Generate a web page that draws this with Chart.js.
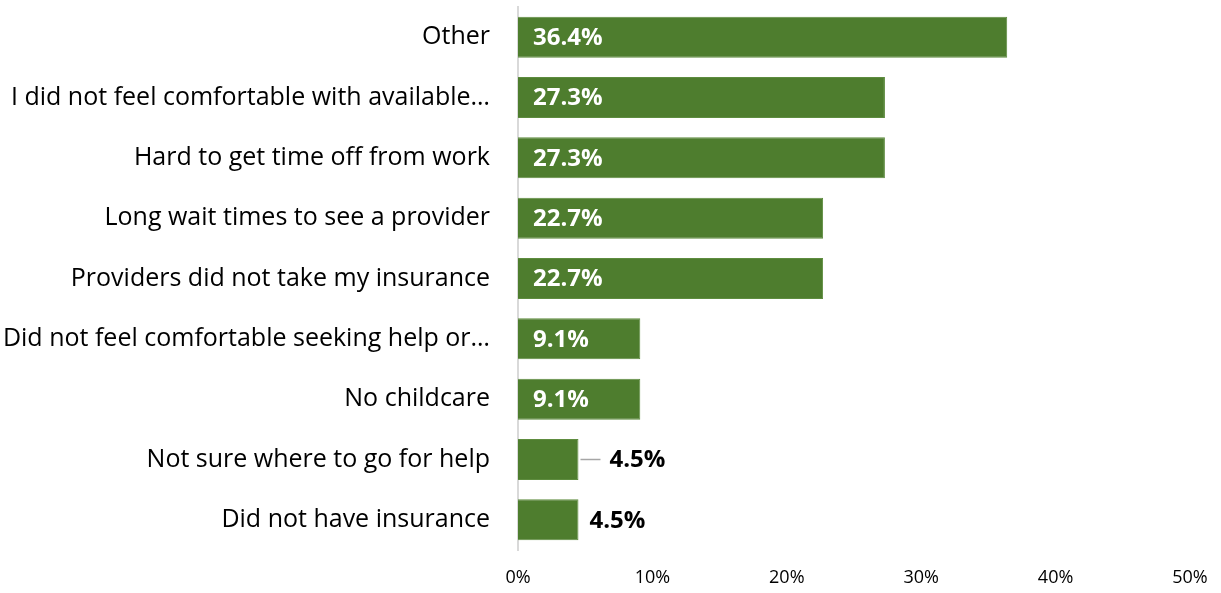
<!DOCTYPE html>
<html>
<head>
<meta charset="utf-8">
<script src="https://cdn.jsdelivr.net/npm/chart.js@4"></script>
<style>
  body { margin: 0; background: #fff; }
</style>
</head>
<body>
<canvas id="barriersChart" width="1221" height="593"></canvas>
<script>
// Chart data
const categories = [
    "Other",
    "I did not feel comfortable with available\u2026",
    "Hard to get time off from work",
    "Long wait times to see a provider",
    "Providers did not take my insurance",
    "Did not feel comfortable seeking help or\u2026",
    "No childcare",
    "Not sure where to go for help",
    "Did not have insurance"
];
const percentages = [36.4, 27.3, 27.3, 22.7, 22.7, 9.1, 9.1, 4.5, 4.5];
const tickValues = [0, 10, 20, 30, 40, 50];

// bars whose label sits outside with a little leader line
const leaderLabels = [7];

const barColor = "#4E7D2E";
const fontFamily = "'Open Sans', 'Noto Sans', sans-serif";

// Draw value labels on / next to bars
const valueLabels = {
    id: "valueLabels",
    afterDatasetsDraw(chart) {
        const ctx = chart.ctx;
        const meta = chart.getDatasetMeta(0);
        ctx.save();
        ctx.font = "bold 24px " + fontFamily;
        ctx.textBaseline = "middle";
        ctx.textAlign = "left";
        meta.data.forEach((bar, i) => {
            const value = percentages[i];
            const text = value.toFixed(1) + "%";
            if (value >= 9) {
                ctx.fillStyle = "#FFFFFF";
                ctx.fillText(text, bar.base + 15, bar.y + 1);
            } else if (leaderLabels.includes(i)) {
                ctx.strokeStyle = "#A6A6A6";
                ctx.lineWidth = 1.5;
                ctx.beginPath();
                ctx.moveTo(bar.x + 2, bar.y);
                ctx.lineTo(bar.x + 22, bar.y);
                ctx.stroke();
                ctx.fillStyle = "#000000";
                ctx.fillText(text, bar.x + 31, bar.y + 1);
            } else {
                ctx.fillStyle = "#000000";
                ctx.fillText(text, bar.x + 11, bar.y + 1);
            }
        });
        ctx.restore();
    }
};

document.addEventListener("DOMContentLoaded", function () {
    const ctx = document.getElementById("barriersChart").getContext("2d");

    new Chart(ctx, {
        type: "bar",
        data: {
            labels: categories,
            datasets: [{
                data: percentages,
                backgroundColor: barColor,
                borderColor: "#5E8C3F",
                borderWidth: 1,
                categoryPercentage: 1.0,
                barPercentage: 0.68,
            }]
        },
        options: {
            indexAxis: "y",
            responsive: false,
            animation: false,
            layout: {
                padding: { top: 7, right: 31, left: 0, bottom: 0 }
            },
            scales: {
                x: {
                    min: 0,
                    max: 50,
                    afterFit: (scale) => {
                        scale.height = 43;
                        scale.paddingLeft = 0;
                        scale.paddingRight = 0;
                    },
                    afterBuildTicks: (scale) => {
                        scale.ticks = tickValues.map(v => ({ value: v }));
                    },
                    grid: { display: false, drawTicks: false },
                    border: { display: false },
                    ticks: {
                        padding: 17,
                        color: "#000",
                        maxRotation: 0,
                        font: { family: fontFamily, size: 18 },
                        callback: (v) => v + "%",
                    },
                },
                y: {
                    afterFit: (scale) => {
                        scale.width = 518;
                        scale.paddingTop = 0;
                        scale.paddingBottom = 0;
                    },
                    grid: { display: false, drawTicks: false },
                    border: { display: true, color: "#D9D9D9", width: 2 },
                    ticks: {
                        padding: 28,
                        color: "#000",
                        autoSkip: false,
                        font: { family: fontFamily, size: 25 },
                    },
                },
            },
            plugins: {
                legend: { display: false },
                title: { display: false },
                tooltip: { enabled: false },
            },
        },
        plugins: [valueLabels]
    });
});
</script>
</body>
</html>
